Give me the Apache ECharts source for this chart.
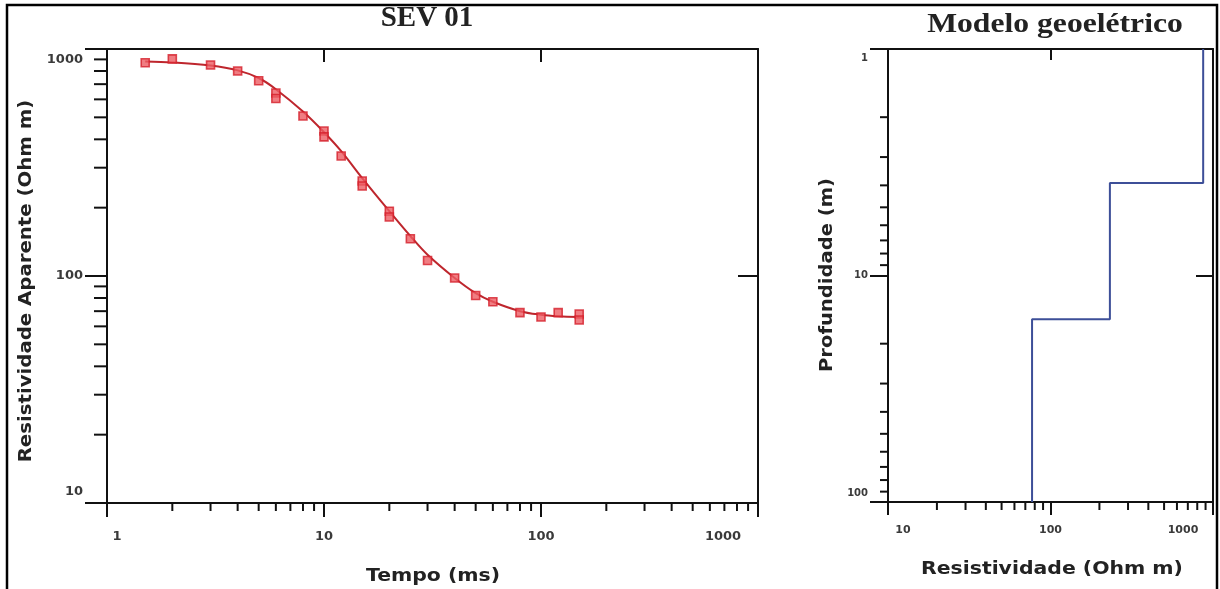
<!DOCTYPE html>
<html><head><meta charset="utf-8">
<script src="https://cdn.jsdelivr.net/npm/echarts@6/dist/echarts.min.js"></script>
<style>html,body{margin:0;padding:0;background:#fff}#c{width:1220px;height:589px}</style>
</head><body><div id="c"></div>
<script>
// ---- observed apparent resistivity (SEV 01) ----
const timeMs      = [1.5, 2, 3, 4, 5, 6, 6, 8, 10, 10, 12, 15, 15, 20, 20, 25, 30, 40, 50, 60, 80, 100, 120, 150, 150];
const rhoApparent = [870, 905, 850, 800, 725, 640, 605, 507, 435, 410, 338, 262, 249, 193, 182, 146, 117, 98, 82, 77, 69, 66, 69, 68, 64];
// ---- fitted model response curve ----
const fitTimeMs = [1.5, 2, 3, 4, 5, 6, 8, 10, 12, 15, 20, 25, 30, 40, 50, 60, 80, 100, 120, 150];
const fitRho    = [880, 872, 845, 805, 745, 665, 530, 430, 355, 270, 193, 150, 124, 98, 84, 77, 70, 67.5, 66.5, 66];
// ---- geoelectric model (layers) ----
const layerResistivity = [870, 232, 77];
const layerBottomDepth = [3.9, 15.6, 100];
const modelTopDepth = 1;
// ---- axis ranges ----
const sevTimeRange = [1, 1000];
const sevRhoRange = [10, 1000];
const modelRhoRange = [10, 1000];
const modelDepthRange = [1, 100];

function minorTicks(lo, hi) {
  const out = [];
  for (let d = lo; d < hi; d *= 10) for (let m = 2; m <= 9; m++) out.push(m * d);
  return out;
}
const modelSteps = [];
let layerTop = modelTopDepth;
layerResistivity.forEach((r, i) => {
  modelSteps.push([r, layerTop]);
  modelSteps.push([r, layerBottomDepth[i]]);
  layerTop = layerBottomDepth[i];
});

const AX = '#111';
const LBL = '#3a3a3a';
const near = (a, b) => Math.abs(a - b) < 1e-6 * b;

function tickRender(dx, dy) {
  return function (params, api) {
    const p = api.coord([api.value(0), api.value(1)]);
    return { type: 'line', shape: { x1: p[0], y1: p[1], x2: p[0] + dx, y2: p[1] + dy },
      style: { stroke: AX, lineWidth: 2 } };
  };
}
function richFont(size) { return { fontFamily: 'DejaVu Sans', fontWeight: 'bold', fontSize: size, color: LBL }; }
function logAxis(extra) {
  return Object.assign({
    type: 'log', logBase: 10,
    axisLine: { show: true, lineStyle: { color: AX, width: 2 } },
    splitLine: { show: false }, minorTick: { show: false }, minorSplitLine: { show: false }
  }, extra);
}

const chart = echarts.init(document.getElementById('c'), null, { renderer: 'canvas' });
chart.setOption({
  animation: false,
  backgroundColor: '#fff',
  grid: [
    { left: 107, top: 49, width: 651, height: 454 },
    { left: 888, top: 49, width: 325, height: 453 }
  ],
  xAxis: [
    logAxis({ gridIndex: 0, position: 'bottom', min: sevTimeRange[0], max: sevTimeRange[1],
      axisTick: { show: true, inside: false, length: 14, lineStyle: { color: AX, width: 2 } },
      axisLabel: { show: true, margin: 27, ...richFont(13),
        formatter: v => near(v, 1) ? '{lo|1}' : near(v, 1000) ? '{hi|1000}' : String(Math.round(v)),
        rich: { lo: { ...richFont(13), padding: [0, 0, 0, 20] }, hi: { ...richFont(13), padding: [0, 70, 0, 0] } } } }),
    logAxis({ gridIndex: 0, position: 'top', min: sevTimeRange[0], max: sevTimeRange[1],
      axisTick: { show: true, inside: true, length: 13, lineStyle: { color: AX, width: 2 } },
      axisLabel: { show: false } }),
    logAxis({ gridIndex: 1, position: 'bottom', min: modelRhoRange[0], max: modelRhoRange[1],
      axisTick: { show: true, inside: false, length: 13, lineStyle: { color: AX, width: 2 } },
      axisLabel: { show: true, margin: 23, ...richFont(11),
        formatter: v => near(v, 10) ? '{lo|10}' : near(v, 1000) ? '{hi|1000}' : String(Math.round(v)),
        rich: { lo: { ...richFont(11), padding: [0, 0, 0, 30] }, hi: { ...richFont(11), padding: [0, 60, 0, 0] } } } }),
    logAxis({ gridIndex: 1, position: 'top', min: modelRhoRange[0], max: modelRhoRange[1],
      axisTick: { show: true, inside: true, length: 11, lineStyle: { color: AX, width: 2 } },
      axisLabel: { show: false } })
  ],
  yAxis: [
    logAxis({ gridIndex: 0, position: 'left', min: sevRhoRange[0], max: sevRhoRange[1],
      axisTick: { show: true, inside: false, length: 22, lineStyle: { color: AX, width: 2 } },
      axisLabel: { show: true, margin: 24, ...richFont(13),
        formatter: v => near(v, 10) ? '{lo|10}' : near(v, 1000) ? '{hi|1000}' : String(Math.round(v)),
        rich: { lo: { ...richFont(13), padding: [0, 0, 22, 0] }, hi: { ...richFont(13), padding: [22, 0, 0, 0] } } } }),
    logAxis({ gridIndex: 0, position: 'right', min: sevRhoRange[0], max: sevRhoRange[1],
      axisTick: { show: true, inside: true, length: 20, lineStyle: { color: AX, width: 2 } },
      axisLabel: { show: false } }),
    logAxis({ gridIndex: 1, position: 'left', inverse: true, min: modelDepthRange[0], max: modelDepthRange[1],
      axisTick: { show: true, inside: false, length: 18, lineStyle: { color: AX, width: 2 } },
      axisLabel: { show: true, margin: 20, ...richFont(10),
        formatter: v => near(v, 1) ? '{hi|1}' : near(v, 100) ? '{lo|100}' : String(Math.round(v)),
        rich: { hi: { ...richFont(10), padding: [18, 0, 0, 0] }, lo: { ...richFont(10), padding: [0, 0, 18, 0] } } } }),
    logAxis({ gridIndex: 1, position: 'right', inverse: true, min: modelDepthRange[0], max: modelDepthRange[1],
      axisTick: { show: true, inside: true, length: 17, lineStyle: { color: AX, width: 2 } },
      axisLabel: { show: false } })
  ],
  series: [
    { type: 'custom', xAxisIndex: 0, yAxisIndex: 0, silent: true, clip: false,
      data: minorTicks(1, 1000).map(v => [v, sevRhoRange[0]]), renderItem: tickRender(0, 8) },
    { type: 'custom', xAxisIndex: 0, yAxisIndex: 0, silent: true, clip: false,
      data: minorTicks(10, 1000).map(v => [sevTimeRange[0], v]), renderItem: tickRender(-13, 0) },
    { type: 'custom', xAxisIndex: 2, yAxisIndex: 2, silent: true, clip: false,
      data: minorTicks(10, 1000).map(v => [v, modelDepthRange[1]]), renderItem: tickRender(0, 8) },
    { type: 'custom', xAxisIndex: 2, yAxisIndex: 2, silent: true, clip: false,
      data: minorTicks(1, 100).map(v => [modelRhoRange[0], v]), renderItem: tickRender(-8, 0) },
    { name: 'Ajuste', type: 'line', xAxisIndex: 0, yAxisIndex: 0, smooth: 0.35, showSymbol: false,
      data: fitTimeMs.map((t, i) => [t, fitRho[i]]),
      lineStyle: { color: '#be262d', width: 2 }, z: 3 },
    { name: 'SEV 01', type: 'scatter', xAxisIndex: 0, yAxisIndex: 0, symbol: 'rect', symbolSize: 8,
      data: timeMs.map((t, i) => [t, rhoApparent[i]]),
      itemStyle: { color: '#ec5c63', borderColor: '#d41f2a', borderWidth: 1.6 }, z: 4 },
    { name: 'Modelo', type: 'line', xAxisIndex: 2, yAxisIndex: 2, showSymbol: false,
      data: modelSteps, lineStyle: { color: '#3d4f98', width: 2 }, z: 3 }
  ],
  graphic: [
    { type: 'rect', shape: { x: 7, y: 5, width: 1210, height: 600 }, style: { fill: 'none', stroke: '#000', lineWidth: 2.5 }, silent: true },
    { type: 'text', x: 427, y: 19, style: { text: 'SEV 01', font: 'bold 29px "Liberation Serif"', fill: '#222', align: 'center', verticalAlign: 'middle' } },
    { type: 'text', x: 1055, y: 25, scaleX: 1.13, style: { text: 'Modelo geoelétrico', font: 'bold 28px "Liberation Serif"', fill: '#222', align: 'center', verticalAlign: 'middle' } },
    { type: 'text', x: 433, y: 577, scaleX: 1.2, style: { text: 'Tempo (ms)', font: 'bold 17px "DejaVu Sans"', fill: '#222', align: 'center', verticalAlign: 'middle' } },
    { type: 'text', x: 27, y: 281, rotation: Math.PI / 2, scaleX: 1.16, style: { text: 'Resistividade Aparente (Ohm m)', font: 'bold 17px "DejaVu Sans"', fill: '#222', align: 'center', verticalAlign: 'middle' } },
    { type: 'text', x: 828, y: 275, rotation: Math.PI / 2, scaleX: 1.15, style: { text: 'Profundidade (m)', font: 'bold 17px "DejaVu Sans"', fill: '#222', align: 'center', verticalAlign: 'middle' } },
    { type: 'text', x: 1052, y: 570, scaleX: 1.2, style: { text: 'Resistividade (Ohm m)', font: 'bold 17px "DejaVu Sans"', fill: '#222', align: 'center', verticalAlign: 'middle' } }
  ]
});
</script></body></html>
